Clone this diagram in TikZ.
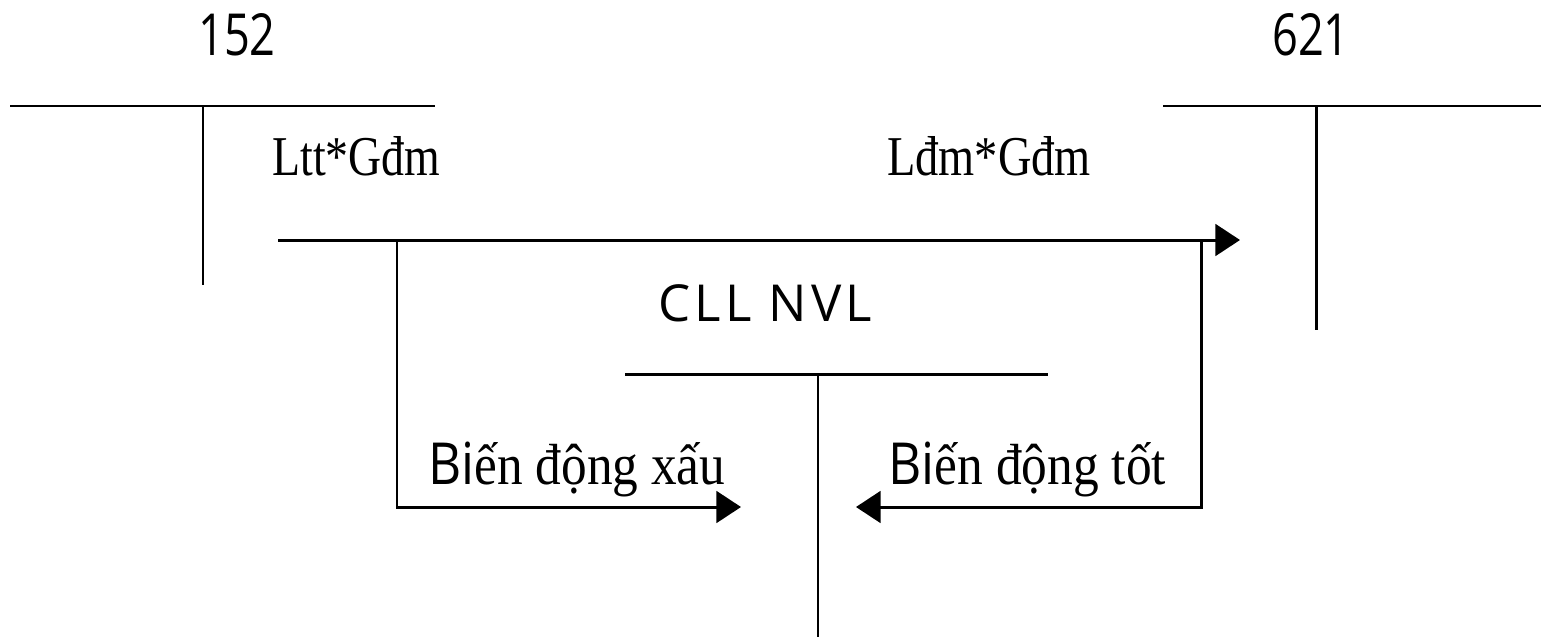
\documentclass[tikz,border=0pt]{standalone}
\usepackage{fontspec}
\usepackage{graphicx}
\setmainfont{Liberation Serif}
\newfontfamily\sanf{Open Sans}
\newfontfamily\sanfsp[LetterSpace=8]{Open Sans}
\usetikzlibrary{arrows.meta}
\begin{document}
\begin{tikzpicture}[x=0.02cm,y=-0.02cm,
  ln/.style={line width=1.7pt},
  arr/.style={line width=1.7pt,-{Triangle[length=14pt,width=18pt]}},
  num/.style={font=\sanf\fontsize{33}{40}\selectfont,inner sep=0pt,anchor=base},
  lab/.style={font=\fontsize{32}{38}\selectfont,inner sep=0pt,anchor=base west},
  blab/.style={font=\fontsize{33}{40}\selectfont,inner sep=0pt,anchor=base west}]
\useasboundingbox (0,0) rectangle (1543,640);
% account 152
\node[num] (n152) at (237,55) {\scalebox{0.78}[1]{152}};
\coordinate (a1) at (10,106); \coordinate (a2) at (435,106);
\coordinate (a3) at (203,106); \coordinate (a4) at (203,285);
\draw[ln] (a1) -- (a2); \draw[ln] (a3) -- (a4);
% account 621
\node[num] (n621) at (1311,55) {\scalebox{0.78}[1]{621}};
\coordinate (b1) at (1163,106); \coordinate (b2) at (1541,106);
\coordinate (b3) at (1316,106); \coordinate (b4) at (1316,330);
\draw[ln] (b1) -- (b2); \draw[ln] (b3) -- (b4);
% account CLL NVL
\node[font=\sanfsp\fontsize{29}{36}\selectfont,inner sep=0pt,anchor=base west] (cll) at (658,321) {CLL NVL};
\coordinate (c1) at (625,374); \coordinate (c2) at (1048,374);
\coordinate (c3) at (818,374); \coordinate (c4) at (818,637);
\draw[ln] (c1) -- (c2); \draw[ln] (c3) -- (c4);
% labels
\node[lab] (ltt) at (272,175) {\scalebox{0.815}[1]{Ltt*Gđm}};
\node[lab] (ldm) at (887,175) {\scalebox{0.825}[1]{Lđm*Gđm}};
\node[blab] (xau) at (428,484) {\scalebox{0.885}[1]{{\sanf Bi}ến động xấu}};
\node[blab] (tot) at (888,484) {\scalebox{0.887}[1]{{\sanf Bi}ến động tốt}};
% main arrow
\coordinate (m1) at (278,240); \coordinate (m2) at (1240,240);
\draw[arr] (m1) -- (m2);
% left branch
\coordinate (l1) at (397,240); \coordinate (l2) at (397,507); \coordinate (l3) at (741,507);
\draw[arr] (l1) -- (l2) -- (l3);
% right branch
\coordinate (r1) at (1201,240); \coordinate (r2) at (1201,507); \coordinate (r3) at (856,507);
\draw[arr] (r1) -- (r2) -- (r3);
\end{tikzpicture}
\end{document}
